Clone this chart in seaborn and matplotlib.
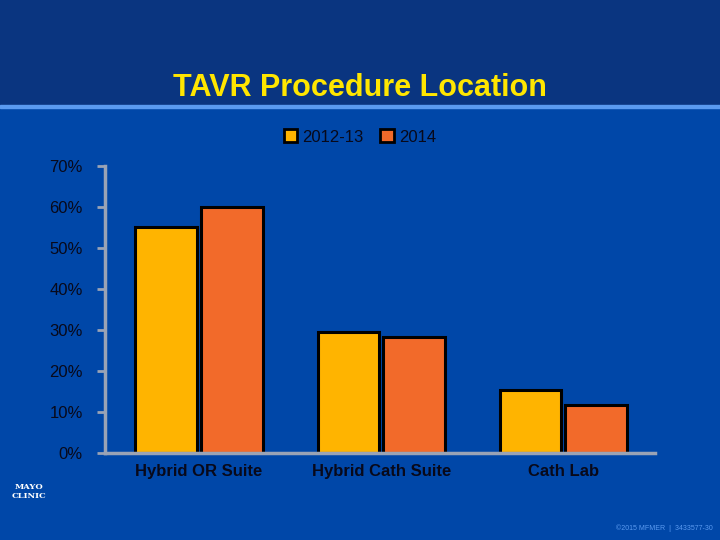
import matplotlib
matplotlib.use("Agg")
import matplotlib.pyplot as plt
import seaborn as sns
import pandas as pd
from matplotlib.patches import Rectangle

categories = ["Hybrid OR Suite", "Hybrid Cath Suite", "Cath Lab"]
series = ["2012-13", "2014"]
values_2012 = [55.0, 29.5, 15.3]
values_2014 = [60.0, 28.2, 11.8]
yticks = [0, 10, 20, 30, 40, 50, 60, 70]

df = pd.DataFrame({
    "cat": categories * 2,
    "series": [series[0]] * 3 + [series[1]] * 3,
    "val": values_2012 + values_2014,
})

sns.set_style("white")
plt.rcParams['font.family'] = ['Liberation Sans', 'DejaVu Sans']
bg = "#0047A8"
txt = "#08091A"
fig = plt.figure(figsize=(7.2, 5.4), dpi=100, facecolor=bg)
fig.patches.append(Rectangle((0, 1 - 105/540), 1, 105/540, transform=fig.transFigure,
                             color="#0A3580", zorder=0))
fig.patches.append(Rectangle((0, 1 - 108/540), 1, 3/540, transform=fig.transFigure,
                             color="#5A9AF0", zorder=0))
ax = fig.add_axes([0.146, 0.161, 0.764, 0.532])
ax.set_facecolor(bg)
sns.barplot(data=df, x="cat", y="val", hue="series", palette=["#FFB400", "#F26A2A"],
            saturation=1, width=0.72, gap=0.06, edgecolor="black", linewidth=2.2,
            ax=ax, legend=False)
ax.set_xlim(-0.516, 2.505)
ax.set_ylim(0, 70)
ax.set_yticks(yticks)
ax.set_yticklabels([f"{t}%" for t in yticks], fontsize=12, color=txt)
ax.tick_params(axis="y", length=6, width=2, color="#9aa3b5", pad=10, left=True)
ax.tick_params(axis="x", length=0, pad=8)
ax.set_xticks(range(3))
ax.set_xticklabels(categories, fontsize=12, fontweight="bold", color=txt)
for s in ["top", "right"]:
    ax.spines[s].set_visible(False)
for s in ["left", "bottom"]:
    ax.spines[s].set_color("#9aa3b5")
    ax.spines[s].set_linewidth(2.5)
ax.set_xlabel("")
ax.set_ylabel("")

fig.text(0.5, 1 - 88/540, "TAVR Procedure Location", ha="center", va="center",
         fontsize=22, fontweight="bold", color="#FFE600")
handles = [Rectangle((0, 0), 1, 1, facecolor=c, edgecolor="black", linewidth=2) for c in ["#FFB400", "#F26A2A"]]
fig.legend(handles, series, loc="center", bbox_to_anchor=(0.5, 1 - 137/540), ncol=2,
           frameon=False, handlelength=0.8, handleheight=0.8,
           handletextpad=0.3, columnspacing=1.0, labelcolor=txt,
           prop={"size": 12})
fig.text(0.04, 0.09, "MAYO\nCLINIC", ha="center", va="center", fontsize=6,
         fontweight="bold", color="white", family="DejaVu Serif")
fig.text(0.99, 0.015, "©2015 MFMER  |  3433577-30", ha="right", va="bottom", fontsize=5,
         color="#5A9AF0")
fig.savefig("out.png", dpi=100, facecolor=bg)
